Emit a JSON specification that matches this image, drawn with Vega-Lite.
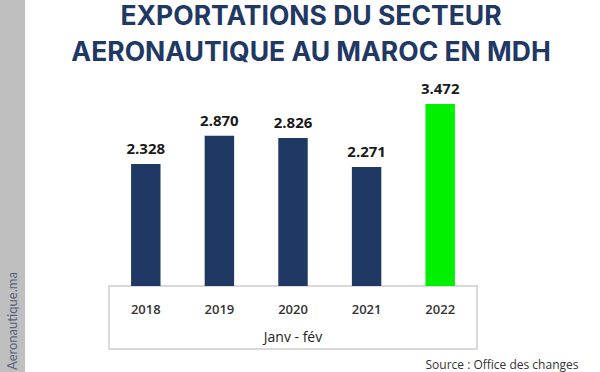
{
  "$schema": "https://vega.github.io/schema/vega-lite/v6.json",
  "autosize": {"type": "none"},
  "padding": {"left": 109, "top": 100, "right": 123, "bottom": 23},
  "width": 368,
  "height": 249,
  "background": "white",
  "config": {"view": {"stroke": null}},
  "layer": [
    {
      "layer": [
        {
          "data": {"values": [{"strip": "left"}]},
          "mark": {"type": "rect", "fill": "#bfbfbf"},
          "encoding": {
            "x": {"datum": -0.3, "type": "quantitative", "scale": {"domain": [0, 1]}, "axis": null},
            "x2": {"datum": -0.228},
            "y": {"datum": 5.5, "type": "quantitative", "scale": {"domain": [-1.2, 3.55], "nice": false}, "axis": null},
            "y2": {"datum": -1.7}
          }
        },
        {
          "data": {"values": [{"site": "Aeronautique.ma"}]},
          "mark": {"type": "text", "angle": 270, "align": "left", "baseline": "middle", "fontSize": 13, "font": "Lato", "color": "#56627e"},
          "encoding": {
            "text": {"field": "site"},
            "x": {"datum": -0.262, "type": "quantitative", "scale": {"domain": [0, 1]}, "axis": null},
            "y": {"datum": -1.6, "type": "quantitative", "scale": {"domain": [-1.2, 3.55], "nice": false}, "axis": null}
          }
        },
        {
          "data": {"values": [{"t": "EXPORTATIONS DU SECTEUR"}]},
          "mark": {"type": "text", "align": "center", "baseline": "middle", "fontSize": 26.5, "fontWeight": 700, "font": "Inter", "color": "#1f3864"},
          "encoding": {
            "text": {"field": "t"},
            "x": {"datum": 0.549, "type": "quantitative", "scale": {"domain": [0, 1]}, "axis": null},
            "y": {"datum": 5.14, "type": "quantitative", "scale": {"domain": [-1.2, 3.55], "nice": false}, "axis": null}
          }
        },
        {
          "data": {"values": [{"t": "AERONAUTIQUE AU MAROC EN MDH"}]},
          "mark": {"type": "text", "align": "center", "baseline": "middle", "fontSize": 26.5, "fontWeight": 700, "font": "Inter", "color": "#1f3864"},
          "encoding": {
            "text": {"field": "t"},
            "x": {"datum": 0.549, "type": "quantitative", "scale": {"domain": [0, 1]}, "axis": null},
            "y": {"datum": 4.44, "type": "quantitative", "scale": {"domain": [-1.2, 3.55], "nice": false}, "axis": null}
          }
        },
        {
          "data": {"values": [{"box": "axis"}]},
          "mark": {"type": "rect", "fill": "white", "stroke": "#d9d9d9", "strokeWidth": 2},
          "encoding": {
            "x": {"datum": 0, "type": "quantitative", "scale": {"domain": [0, 1]}, "axis": null},
            "x2": {"datum": 1},
            "y": {"datum": 0, "type": "quantitative", "scale": {"domain": [-1.2, 3.55], "nice": false}, "axis": null},
            "y2": {"datum": -1.2}
          }
        },
        {
          "data": {"values": [{"t": "Janv - fév"}]},
          "mark": {"type": "text", "align": "center", "baseline": "middle", "fontSize": 14, "font": "Open Sans", "color": "#222222"},
          "encoding": {
            "text": {"field": "t"},
            "x": {"datum": 0.5, "type": "quantitative", "scale": {"domain": [0, 1]}, "axis": null},
            "y": {"datum": -0.99, "type": "quantitative", "scale": {"domain": [-1.2, 3.55], "nice": false}, "axis": null}
          }
        },
        {
          "data": {"values": [{"src": "Source : Office des changes"}]},
          "mark": {"type": "text", "align": "left", "baseline": "bottom", "fontSize": 12, "font": "Open Sans", "color": "#333333"},
          "encoding": {
            "text": {"field": "src"},
            "x": {"datum": 0.86, "type": "quantitative", "scale": {"domain": [0, 1]}, "axis": null},
            "y": {"datum": -1.63, "type": "quantitative", "scale": {"domain": [-1.2, 3.55], "nice": false}, "axis": null}
          }
        }
      ]
    },
    {
      "data": {
        "values": [
          {"year": "2018", "value": 2.328},
          {"year": "2019", "value": 2.870},
          {"year": "2020", "value": 2.826},
          {"year": "2021", "value": 2.271},
          {"year": "2022", "value": 3.472}
        ]
      },
      "encoding": {
        "x": {"field": "year", "type": "nominal", "scale": {"paddingInner": 0.6, "paddingOuter": 0.3}, "axis": null}
      },
      "layer": [
        {
          "mark": {"type": "bar"},
          "encoding": {
            "y": {"field": "value", "type": "quantitative", "scale": {"domain": [-1.2, 3.55], "nice": false}, "axis": null},
            "y2": {"datum": 0},
            "color": {"condition": {"test": "datum.year === '2022'", "value": "#00f000"}, "value": "#1f3864"}
          }
        },
        {
          "mark": {"type": "text", "baseline": "bottom", "dy": -7, "fontSize": 15, "fontWeight": "bold", "font": "Open Sans", "color": "#1a1a1a"},
          "encoding": {
            "y": {"field": "value", "type": "quantitative", "scale": {"domain": [-1.2, 3.55], "nice": false}, "axis": null},
            "text": {"field": "value", "type": "quantitative", "format": ".3f"}
          }
        },
        {
          "mark": {"type": "text", "baseline": "middle", "fontSize": 13, "fontWeight": 600, "font": "Open Sans", "color": "#333333"},
          "encoding": {
            "y": {"datum": -0.46, "type": "quantitative", "scale": {"domain": [-1.2, 3.55], "nice": false}, "axis": null},
            "text": {"field": "year"}
          }
        }
      ]
    }
  ],
  "resolve": {"scale": {"x": "independent"}}
}
